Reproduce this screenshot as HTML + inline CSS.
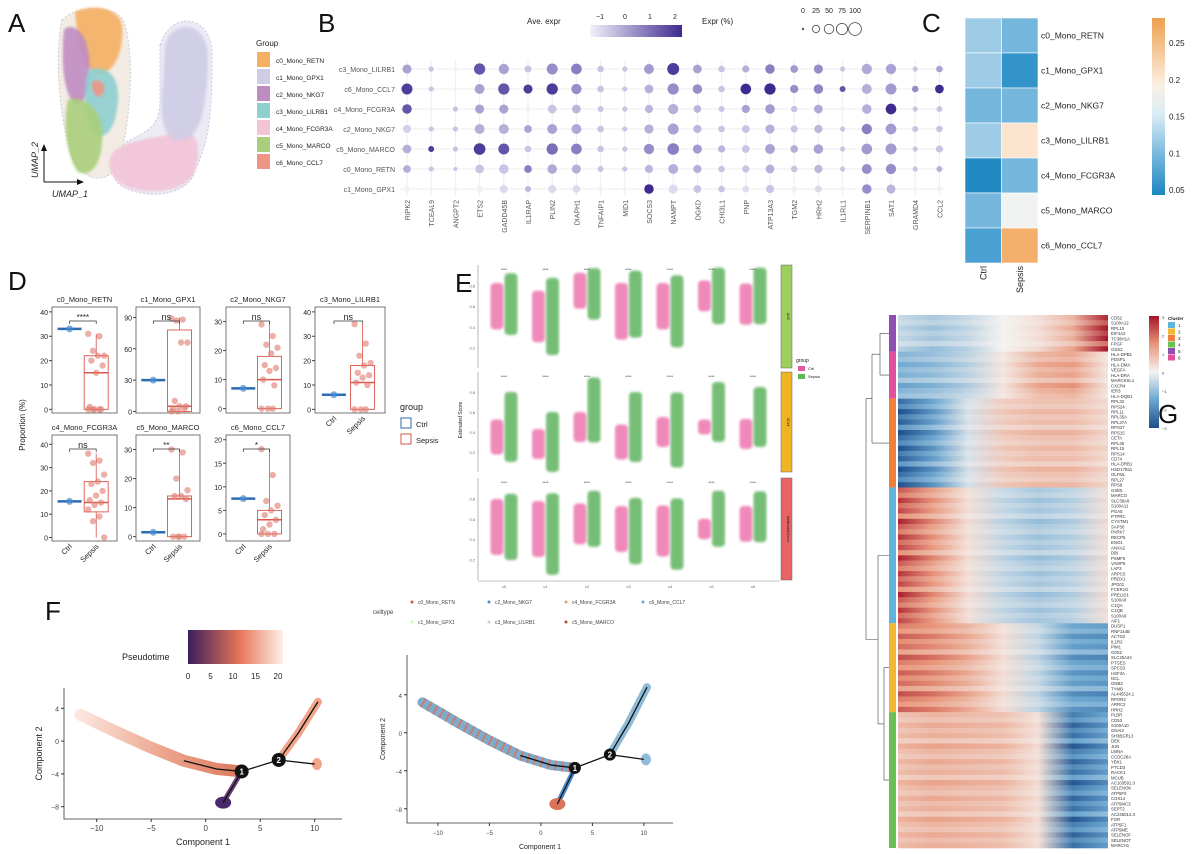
<!DOCTYPE html>
<html><head><meta charset="utf-8">
<style>
html,body{margin:0;padding:0;background:#fff;}
svg{display:block;font-family:"Liberation Sans",sans-serif;}
</style></head>
<body>
<svg id="fig" width="1200" height="854" viewBox="0 0 1200 854" xmlns="http://www.w3.org/2000/svg">
<defs>
<linearGradient id="aveGrad" x1="0" x2="1" y1="0" y2="0"><stop offset="0" stop-color="#f3f1fa"/><stop offset="1" stop-color="#3f2a90"/></linearGradient>
<linearGradient id="cGrad" x1="0" x2="0" y1="1" y2="0"><stop offset="0" stop-color="#1b86c0"/><stop offset="0.22" stop-color="#74b6dc"/><stop offset="0.45" stop-color="#d9ecf5"/><stop offset="0.62" stop-color="#fbf0e4"/><stop offset="1" stop-color="#eea04e"/></linearGradient>
<linearGradient id="gGrad" x1="0" x2="0" y1="1" y2="0"><stop offset="0" stop-color="#1f4e8c"/><stop offset="0.25" stop-color="#6aa6d0"/><stop offset="0.5" stop-color="#f5f2f0"/><stop offset="0.75" stop-color="#e8967a"/><stop offset="1" stop-color="#a5142a"/></linearGradient>
<linearGradient id="ptGrad" x1="0" x2="1" y1="0" y2="0"><stop offset="0" stop-color="#3b1f5c"/><stop offset="0.55" stop-color="#e8775a"/><stop offset="1" stop-color="#fdf0ea"/></linearGradient>
<linearGradient id="branchL" x1="0" x2="1" y1="0" y2="0"><stop offset="0" stop-color="#fbe3da"/><stop offset="0.5" stop-color="#eb9c82"/><stop offset="1" stop-color="#d9694c"/></linearGradient>
<filter id="blur1"><feGaussianBlur stdDeviation="1.2"/></filter>
</defs>
<g id="root"></g>
</svg>
<script>
// ---------- data ----------
var groupNames = ["c0_Mono_RETN","c1_Mono_GPX1","c2_Mono_NKG7","c3_Mono_LILRB1","c4_Mono_FCGR3A","c5_Mono_MARCO","c6_Mono_CCL7"];
var groupColors = ["#f5b064","#cfcde6","#bf8cc2","#8ecfcf","#f2c4d6","#a9cf7c","#ee9585"];
var dotRows = ["c3_Mono_LILRB1","c6_Mono_CCL7","c4_Mono_FCGR3A","c2_Mono_NKG7","c5_Mono_MARCO","c0_Mono_RETN","c1_Mono_GPX1"];
var dotGenes = ["RIPK2","TCEAL9","ANGPT2","ETS2","GADD45B","IL1RAP","PLIN2","DIAPH1","TNFAIP1","MID1","SOCS3","NAMPT","DGKD","CHI3L1","PNP","ATP13A3","TGM2","HRH2","IL1RL1","SERPINB1","SAT1","GRAMD4","CCL2"];
var dotPct = [
[45,10,5,75,60,25,70,65,20,10,55,85,40,20,25,50,30,45,10,60,60,10,20],
[70,10,5,55,75,45,75,60,20,10,40,75,50,20,65,75,35,50,15,55,70,20,40],
[50,5,10,45,45,10,40,40,15,10,35,60,30,15,35,50,20,40,5,50,65,10,15],
[35,10,10,55,55,30,55,55,20,10,45,70,35,20,30,45,25,35,10,60,65,15,20],
[40,15,10,80,70,20,75,65,20,10,60,80,45,25,30,55,30,50,10,65,70,10,25],
[30,10,5,40,50,30,50,45,15,10,35,55,35,20,25,40,20,35,10,55,60,10,15],
[15,5,5,20,35,15,35,30,10,5,50,45,30,20,20,35,15,25,5,50,45,5,10]];
var dotAve = [
[0.5,0,-1,1.5,0.5,0,0.8,1.0,0,0,0.6,1.8,0.5,0,0.3,1.0,0.6,0.8,0,0.4,0.5,0,0.5],
[1.8,0,-1,0.5,1.5,1.8,1.8,0.8,0,0,0.3,0.8,0.8,0,2,2,0.8,0.9,1.5,0.3,0.6,0.8,2],
[1.5,-1,0,0.5,0.5,-1,0,0.2,0,0,0.2,0.3,0.2,0,0.5,0.6,0,0.4,-1,0.3,2,0,0],
[-0.3,0,0,0.3,0.3,0.5,0.5,0.4,0,0,0.3,0.5,0.2,0,0,0.3,0,0.2,0,1,0.6,0,0],
[0.3,1.8,0,1.8,1.5,0,1.2,1.0,0,0,0.8,1.0,0.6,0.2,0,0.5,0.3,0.5,0,0.6,0.6,0,0],
[0.3,0,0,0,0,1,0.4,0.3,0,0,0.2,0.3,0.3,0,0,0.3,0,0.2,0,0.8,0.8,0,0.3],
[-1,-1,-1,-1,-0.5,0.2,-0.5,-0.5,-1,-1,2,-0.5,0,0,-0.5,0,-1,-0.5,-1,0.8,0.2,-1,-1]];
var heatCCols = ["Ctrl","Sepsis"];
var heatCCtrl = [0.12,0.12,0.10,0.12,0.05,0.10,0.08];
var heatCSepsis = [0.10,0.065,0.10,0.20,0.10,0.17,0.26];
var heatCTicks = [0.05,0.1,0.15,0.2,0.25];
var boxTitles = ["c0_Mono_RETN","c1_Mono_GPX1","c2_Mono_NKG7","c3_Mono_LILRB1","c4_Mono_FCGR3A","c5_Mono_MARCO","c6_Mono_CCL7"];
var boxCtrl = [33,30,7,6,15.5,1.5,7.5];
var boxQ1 = [0,0,0,0,11,0,0];
var boxMed = [15,5,10,11,15,13,3];
var boxQ3 = [22,78,18,18,24,14,5];
var boxWhiskLo = [0,0,0,0,0,0,0];
var boxWhiskHi = [31,90,30,35,36,30,18];
var boxPts = [
[31,30,24,22,22,20,18,15,1,0,0,0,0,0],
[89,88,87,66,66,10,5,5,3,2,0,0],
[29,25,22,21,19,15,14,13,10,8,0,0,0],
[35,27,22,19,18,15,14,13,11,10,0,0,0],
[36,33,32,27,24,23,20,18,16,15,14,12,9,7,0],
[30,29,20,16,14,14,13,0,0,0,0],
[18,12.5,7,6,5,4,3,2,1,0,0,0]];
var boxYmax = [42,100,35,42,44,35,21];
var boxTicks = [[0,10,20,30,40],[0,30,60,90],[0,10,20,30],[0,10,20,30,40],[0,10,20,30,40],[0,10,20,30],[0,5,10,15,20]];
var boxSig = ["****","ns","ns","ns","ns","**","*"];
var eCats = ["c0","c1","c2","c3","c4","c5","c6"];
var eCtrlMid = [[0.6,0.5,0.75,0.55,0.6,0.7,0.62],[0.35,0.28,0.45,0.3,0.4,0.45,0.38],[0.52,0.5,0.55,0.5,0.48,0.5,0.55]];
var eSepMid = [[0.62,0.5,0.72,0.62,0.55,0.7,0.7],[0.45,0.3,0.62,0.45,0.42,0.6,0.55],[0.52,0.45,0.6,0.48,0.45,0.6,0.62]];
var eCtrlSpread = [[0.45,0.5,0.35,0.55,0.45,0.3,0.4],[0.35,0.3,0.3,0.35,0.3,0.15,0.3],[0.55,0.55,0.4,0.45,0.5,0.2,0.35]];
var eSepSpread = [[0.6,0.75,0.5,0.65,0.7,0.55,0.55],[0.7,0.6,0.65,0.7,0.75,0.6,0.6],[0.65,0.8,0.55,0.65,0.7,0.55,0.5]];
var eStrip = ["#9ccf5c","#f0b322","#e86464"];
var eFacetNames = ["AUC","UCell","AddModuleScore"];
var ptTicks = [0,5,10,15,20];
var fXTicks = [-10,-5,0,5,10];
var fYTicks = [4,0,-4,-8];
var trajMain = [[-11.5,3.2],[-8,1],[-5,-0.8],[-2,-2.4],[1,-3.4],[3.3,-3.7]];
var trajDown = [[3.3,-3.7],[2.5,-5.5],[1.6,-7.5]];
var trajUp = [[3.3,-3.7],[6.7,-2.3],[8.5,1],[10.3,4.8]];
var trajSide = [[6.7,-2.3],[10,-2.8]];
var nodes = [[3.3,-3.7,"1"],[6.7,-2.3,"2"]];
var gClusterColors = {"1":"#5fb3dc","2":"#f2b632","3":"#f07f3c","4":"#6cbf52","5":"#8e4fb0","6":"#e24f9c"};
var gClusterOrder = ["5","6","3","1","2","4"];
var gGenes5 = ["CD52","S100A12","RPL10","EIF4A2","TC38H1A","FPGF","GSS2"];
var gGenes6 = ["HLA-DPB1","PDSP1","HLA-DMA","VEGFA","HLA-DRA","MARCKSL1","CXCR4","IER3","HLA-DQB1"];
var gGenes3 = ["RPL32","RPS24","RPL11","RPL35A","RPL37A","RPS27","RPS15","CETA","RPL36","RPL15","RPS14","CD74","HLA-DRB1","HSD17B11","OLFML","RPL27","RPS8"];
var gGenes1 = ["GSE5","MARCO","SLC39A8","S100A11","PGA5","PTPRC","CYSTM1","SAP30","PARK7","RECP5","ENO1","ANXA2","DBI","PSMF5","VAMP5","LAP3","ARPC5","PRDX1","JPG01","FCER1G","PRELID1","S100A8","C1QA","C1QB","S100A9","AIF1"];
var gGenes2 = ["DUSP1","RNF144B","ACTG2","IL1R2","PIM1","G0S2","SLC25A24","PTGES","SPCS3","HSF3A","NCL","GNB3","TYMB","AL445524.1","RPOR2","ARRC2","HRH2"];
var gGenes4 = ["PLBR","CD53","S100A10","GNAI2","SH3BGRL3","DEK","JUN","LMNA","CCDC28A","YBX1","PTCD3","RACK1","MCUB","AC103591.3","SELENOK","ATP5F0","COX14","ATP5MC3","SEPT2","AC245014.3","FGR","ATP5F1","ATP5ME","SELENOF","SELENOT","MARCH1"];
var gProf5 = [-0.5,-0.8,-0.5,0,0.3,1,2.8];
var gProf6 = [-1.2,-1,-0.6,0.2,1,1.2,0.2];
var gProf3 = [-2.5,-1.5,-0.3,0.6,0.8,0.8,0.4];
var gProf1 = [2.2,1.3,0.3,-0.5,-0.8,-0.6,0.3];
var gProf2 = [1.8,1.5,1,0.3,-0.5,-1.5,-1.6];
var gProf4 = [0.8,1,0.9,0.8,0.3,-2.2,-1.5];
var gRowAmp = [1,0.8,1.2,0.9,1.1,0.7,1.3];
var gTicks = [3,2,1,0,-1,-2,-3];

// ---------- helpers ----------
var NS="http://www.w3.org/2000/svg";
var root=document.getElementById('root');
function mk(tag,a,p){var e=document.createElementNS(NS,tag);for(var k in a)e.setAttribute(k,a[k]);(p||root).appendChild(e);return e;}
function tx(s,x,y,a,p){var e=mk('text',Object.assign({x:x,y:y,fill:'#222','font-size':8},a||{}),p);e.textContent=s;return e;}
function grp(name,p){var g=mk('g',{},p);return g;}
function lerpC(c1,c2,t){var a=parseInt(c1.slice(1),16),b=parseInt(c2.slice(1),16);var r=Math.round(((a>>16)&255)*(1-t)+((b>>16)&255)*t),g=Math.round(((a>>8)&255)*(1-t)+((b>>8)&255)*t),bl=Math.round((a&255)*(1-t)+(b&255)*t);return 'rgb('+r+','+g+','+bl+')';}
function ramp(stops,v){if(v<=stops[0][0])return stops[0][1];for(var i=1;i<stops.length;i++){if(v<=stops[i][0]){var t=(v-stops[i-1][0])/(stops[i][0]-stops[i-1][0]);return lerpC(stops[i-1][1],stops[i][1],t);}}return stops[stops.length-1][1];}
function label(s,x,y,p){var e=tx(s,x,y,{'font-size':26,fill:'#111'},p);return e;}

// ---------- Panel A ----------
var gA=grp('panel-a-umap');
label('A',8,32,gA);
var outlineR=mk('path',{d:'M160,45 C170,10 215,12 212,60 C212,110 210,140 195,170 C190,195 150,200 125,188 C105,178 110,150 130,140 C150,130 160,125 160,100 Z',fill:'#ecebf5',stroke:'#c9c7e0','stroke-dasharray':'2 2'},gA);


var outlineL=mk('path',{d:'M62,20 C75,5 120,3 125,25 C135,60 130,120 120,160 C110,190 75,180 70,150 C58,110 55,50 62,20 Z',fill:'#f3ece4',stroke:'#ccc','stroke-dasharray':'2 2'},gA);


var umapShapes=[
 {c:4,d:'M115,150 C140,135 165,140 175,130 C190,125 205,140 195,170 C188,192 150,196 125,186 C108,178 105,160 115,150 Z'},
 {c:1,d:'M165,45 C172,18 210,20 208,60 C207,110 200,140 180,140 C160,140 160,110 163,80 Z'},
 {c:0,d:'M75,12 C90,4 118,6 122,25 C124,45 118,70 100,75 C85,72 78,50 75,12 Z'},
 {c:2,d:'M64,30 C70,22 85,30 88,50 C92,75 90,100 78,105 C66,102 60,70 64,30 Z'},
 {c:3,d:'M88,70 C100,65 120,70 118,100 C116,130 105,140 95,135 C85,120 82,90 88,70 Z'},
 {c:5,d:'M68,100 C80,95 100,105 102,130 C104,165 90,178 78,172 C68,160 62,125 68,100 Z'},
 {c:6,d:'M92,82 C98,78 106,82 104,92 C100,100 92,98 92,82 Z'}];
umapShapes.forEach(function(s,i){
 var p=mk('path',{d:s.d,fill:groupColors[s.c],opacity:0.9,filter:'url(#blur1)'},gA);
 
 
});
var ax1=mk('path',{d:'M44,182 L44,148 M44,182 L80,182',stroke:'#111','stroke-width':1,fill:'none'},gA);


var arr=mk('path',{d:'M41,151 L44,144 L47,151 Z M77,179 L84,182 L77,185 Z',fill:'#111'},gA);


var u2=tx('UMAP_2',38,160,{'font-size':9,'font-style':'italic',transform:'rotate(-90 38 160)','text-anchor':'middle'},gA);


var u1=tx('UMAP_1',52,197,{'font-size':9,'font-style':'italic'},gA);


var lgA=grp('umap-legend',gA);
tx('Group',256,46,{'font-size':8},lgA);
groupNames.forEach(function(n,i){
 var r=mk('rect',{x:257,y:52+i*17,width:13,height:15,fill:groupColors[i]},lgA);
 
 
 var t=tx(n,276,63+i*17,{'font-size':6.5},lgA);
 
 
});

// ---------- Panel B ----------
var gB=grp('panel-b-dotplot');
label('B',318,32,gB);
function bx(i){return 407+i*24.2;}
function by(j){return 69+j*20;}
function bRad(p){return 0.8+5.6*Math.sqrt(p/100);}
function bCol(v){return ramp([[-1,'#f1eff8'],[0,'#c9c4e3'],[1,'#8a7fc3'],[2,'#3f2a90']],v);}
dotRows.forEach(function(r,j){
 var l=mk('line',{x1:400,x2:945,y1:by(j),y2:by(j),stroke:'#eee','stroke-width':1},gB);
 
 
 var t=tx(r,395,by(j)+3,{'font-size':7,'text-anchor':'end',fill:'#555'},gB);
 
 
});
dotGenes.forEach(function(g,i){
 var l=mk('line',{x1:bx(i),x2:bx(i),y1:60,y2:196,stroke:'#eee','stroke-width':1},gB);
 
 
 var t=tx(g,bx(i)+3,200,{'font-size':7,'text-anchor':'end',fill:'#555',transform:'rotate(-90 '+(bx(i)+3)+' 200)'},gB);
 
 
});
dotRows.forEach(function(r,j){dotGenes.forEach(function(g,i){
 var c=mk('circle',{cx:bx(i),cy:by(j),r:bRad(dotPct[j][i]),fill:bCol(dotAve[j][i])},gB);
 
 
});});
var lgB=grp('dotplot-legend',gB);
tx('Ave. expr',527,24,{'font-size':8},lgB);
var gr=mk('rect',{x:590,y:25,width:92,height:12,fill:'url(#aveGrad)'},lgB);


[-1,0,1,2].forEach(function(v,i){tx(v===-1?'\u22121':String(v),600+i*25,19,{'font-size':7,'text-anchor':'middle'},lgB);});
tx('Expr (%)',702,24,{'font-size':8},lgB);
[0,25,50,75,100].forEach(function(v,i){
 tx(String(v),803+i*13,13,{'font-size':7,'text-anchor':'middle'},lgB);
 var c=mk('circle',{cx:803+i*13,cy:29,r:bRad(v),fill:'none',stroke:'#444','stroke-width':0.8},lgB);
 
 
});

// ---------- Panel C ----------
var gC=grp('panel-c-heatmap');
label('C',922,32,gC);
function cCol(v){return ramp([[0.045,'#1b86c0'],[0.075,'#3f9bcf'],[0.1,'#74b6dc'],[0.125,'#a8d2ea'],[0.16,'#e4f1f7'],[0.18,'#fdf3ec'],[0.21,'#fbdcc0'],[0.27,'#f2a65c']],v);}
var cy0=18,ch=35,cw=36.5;
groupNames.forEach(function(n,j){
 [heatCCtrl,heatCSepsis].forEach(function(arr,k){
  var r=mk('rect',{x:965+k*cw,y:cy0+j*ch,width:cw,height:ch,fill:cCol(arr[j]),stroke:'#fff','stroke-width':0.6},gC);
  
  
 });
 var t=tx(n,1041,cy0+j*ch+ch/2+3,{'font-size':8.5},gC);
 
 
});
heatCCols.forEach(function(c,k){
 var x=965+k*cw+cw/2+3;
 var t=tx(c,x,266,{'font-size':9,'text-anchor':'end',transform:'rotate(-90 '+x+' 266)'},gC);
 
 
});
var cb=mk('rect',{x:1152,y:18,width:13,height:177,fill:'url(#cGrad)'},gC);


function cbY(v){return 190-(v-0.05)*735;}
heatCTicks.forEach(function(v){var t=tx(String(v),1169,cbY(v)+3,{'font-size':8},gC);});

// ---------- Panel D ----------
var gD=grp('panel-d-boxplots');
label('D',8,290,gD);
var dPos=[[52,307],[136,307],[226,307],[315,307],[52,435],[136,435],[226,435]];
var dW=[65,64,64,70,65,64,64],dH=106;
var yl=tx('Proportion (%)',25,425,{'font-size':8,'text-anchor':'middle',transform:'rotate(-90 25 425)'},gD);


boxTitles.forEach(function(t,i){
 var X=dPos[i][0],Y=dPos[i][1],W=dW[i];
 var p=grp('facet-'+t,gD);
 var ys=function(v){return Y+dH-(v+1.5)/(boxYmax[i]+1.5)*dH;};
 tx(t,X+W/2,Y-5,{'font-size':7.5,'text-anchor':'middle'},p);
 var fr=mk('rect',{x:X,y:Y,width:W,height:dH,fill:'none',stroke:'#555','stroke-width':0.8},p);
 
 
 boxTicks[i].forEach(function(v){
  mk('line',{x1:X-3,x2:X,y1:ys(v),y2:ys(v),stroke:'#444'},p);
  tx(String(v),X-4,ys(v)+3,{'font-size':7,'text-anchor':'end'},p);
 });
 var cx=X+W*0.27,sx=X+W*0.68;
 var cl=mk('line',{x1:cx-12,x2:cx+12,y1:ys(boxCtrl[i]),y2:ys(boxCtrl[i]),stroke:'#2b6cb3','stroke-width':2.5},p);
 
 
 var cpt=mk('circle',{cx:cx,cy:ys(boxCtrl[i]),r:3.5,fill:'#4a8ad0',opacity:0.7},p);
 
 
 var wl=mk('line',{x1:sx,x2:sx,y1:ys(boxWhiskHi[i]),y2:ys(boxWhiskLo[i]),stroke:'#d9544a','stroke-width':0.8},p);
 
 
 var br=mk('rect',{x:sx-12,y:ys(boxQ3[i]),width:24,height:ys(boxQ1[i])-ys(boxQ3[i]),fill:'#fff',stroke:'#d9544a','stroke-width':0.9},p);
 
 
 var md=mk('line',{x1:sx-12,x2:sx+12,y1:ys(boxMed[i]),y2:ys(boxMed[i]),stroke:'#d9544a','stroke-width':1.5},p);
 
 
 boxPts[i].forEach(function(v,k){
  var off=((k*7)%11-5)*1.6;
  var c=mk('circle',{cx:sx+off,cy:ys(v),r:3.2,fill:'#e07a6e',opacity:0.6},p);
  
  
 });
 var sy=Y+14;
 var br2=mk('path',{d:'M'+cx+','+(sy+3)+' L'+cx+','+sy+' L'+sx+','+sy+' L'+sx+','+(sy+3),stroke:'#333',fill:'none','stroke-width':0.7},p);
 
 
 var st=tx(boxSig[i],(cx+sx)/2,sy-1,{'font-size':boxSig[i]==='ns'?9:8,'text-anchor':'middle'},p);
 
 
 if(i>=3){
  ['Ctrl','Sepsis'].forEach(function(s,k){var x=k?sx+3:cx+3;tx(s,x,Y+dH+6,{'font-size':7.5,'text-anchor':'end',transform:'rotate(-45 '+x+' '+(Y+dH+6)+')'},p);});
 }
});
var lgD=grp('group-legend',gD);
tx('group',400,410,{'font-size':9},lgD);
[['Ctrl','#2b6cb3'],['Sepsis','#d9544a']].forEach(function(s,k){
 var r=mk('rect',{x:401,y:418+k*16,width:10,height:10,fill:'#fff',stroke:s[1]},lgD);
 
 
 tx(s[0],416,427+k*16,{'font-size':7.5},lgD);
});

// ---------- Panel E ----------
var gE=grp('panel-e-scores');
label('E',455,292,gE);
var eTop=[265,372,478],eH=[103,100,102];
var eX0=478,eX1=780;
var yt=tx('Estimated Score',462,420,{'font-size':5,'text-anchor':'middle',transform:'rotate(-90 462 420)'},gE);


function ex(i){return 497+i*41.5;}
eFacetNames.forEach(function(f,k){
 var p=grp('facet-'+f,gE);
 var fr=mk('rect',{x:eX0,y:eTop[k],width:eX1-eX0,height:eH[k],fill:'#fff',stroke:'none'},p);
 
 
 mk('line',{x1:eX0,x2:eX0,y1:eTop[k],y2:eTop[k]+eH[k],stroke:'#888','stroke-width':0.6},p);
 var st=mk('rect',{x:eX1+1,y:eTop[k],width:11,height:eH[k],fill:eStrip[k],stroke:'#666','stroke-width':0.5},p);
 
 
 tx(f,eX1+7,eTop[k]+eH[k]/2,{'font-size':3.5,'text-anchor':'middle',transform:'rotate(90 '+(eX1+7)+' '+(eTop[k]+eH[k]/2)+')'},p);
 [0.2,0.4,0.6,0.8].forEach(function(v){tx(v.toFixed(1),eX0-3,eTop[k]+eH[k]*(1-v)+2,{'font-size':4,'text-anchor':'end',fill:'#666'},p);});
 var ey=function(v){return eTop[k]+eH[k]*(1-v);};
 eCats.forEach(function(c,i){
  var xc=ex(i),xs=ex(i)+14;
  var cs=eCtrlSpread[k][i],ss=eSepSpread[k][i];
  var r1=mk('rect',{x:xc-6.5,y:ey(eCtrlMid[k][i]+cs/2),width:13,height:eH[k]*cs,rx:4,fill:'#e8589c',opacity:0.7,filter:'url(#blur1)'},p);
  
  
  var r2=mk('rect',{x:xs-6.5,y:ey(eSepMid[k][i]+ss/2),width:13,height:eH[k]*ss,rx:4,fill:'#4aa84a',opacity:0.75,filter:'url(#blur1)'},p);
  
  
  tx('****',(xc+xs)/2,eTop[k]+6,{'font-size':4,'text-anchor':'middle'},p);
  if(k===2)tx(c,xc+7,eTop[k]+eH[k]+8,{'font-size':4,'text-anchor':'middle',fill:'#666'},p);
 });
});
mk('line',{x1:eX0,x2:eX1,y1:581,y2:581,stroke:'#888','stroke-width':0.6},gE);
var lgE=grp('e-group-legend',gE);
tx('group',796,362,{'font-size':5},lgE);
tx('Ctrl',808,370,{'font-size':4},lgE);tx('Sepsis',808,378,{'font-size':4},lgE);
var le1=mk('rect',{x:798,y:366,width:7,height:5,fill:'#e8589c'},lgE);


var le2=mk('rect',{x:798,y:374,width:7,height:5,fill:'#5cb857'},lgE);


var lgCT=grp('celltype-legend',gE);
tx('celltype',373,614,{'font-size':6,fill:'#444'},lgCT);
var ctCols=["#d9544a","#cfa","#4a8ad0","#ccc","#e89b70","#b04a3a","#6aa8cc"];
groupNames.forEach(function(n,i){
 var row=i%2,col=Math.floor(i/2);
 var x=412+col*77,y=604+row*20;
 var c=mk('circle',{cx:x,cy:y-2,r:1.5,fill:ctCols[i]},lgCT);
 
 
 tx(n,x+6,y,{'font-size':5,fill:'#444'},lgCT);
});

// ---------- Panel F ----------
var gF=grp('panel-f-trajectory');
label('F',45,620,gF);
function trajPanel(name,X0,X1,Y0,Y1,xscale,yscale,colored){
 var p=grp(name,gF);
 var fx=function(v){return X0+(v+13)*xscale;};
 var fy=function(v){return Y1-(v+9.5)*yscale;};
 var ax=mk('path',{d:'M'+X0+','+(Y0)+' L'+X0+','+Y1+' L'+X1+','+Y1,stroke:'#333',fill:'none','stroke-width':0.8},p);
 
 
 fXTicks.forEach(function(v){mk('line',{x1:fx(v),x2:fx(v),y1:Y1,y2:Y1+3,stroke:'#333'},p);tx(v<0?'\u2212'+(-v):String(v),fx(v),Y1+12,{'font-size':colored?6:8,'text-anchor':'middle',fill:'#444'},p);});
 fYTicks.forEach(function(v){mk('line',{x1:X0-3,x2:X0,y1:fy(v),y2:fy(v),stroke:'#333'},p);tx(v<0?'\u2212'+(-v):String(v),X0-5,fy(v)+3,{'font-size':colored?6:7,'text-anchor':'end',fill:'#444'},p);});
 function pts(a){return a.map(function(q){return fx(q[0])+','+fy(q[1]);}).join(' ');}
 var bw=colored?10:12;
 var s1=mk('polyline',{points:pts(trajMain),fill:'none',stroke:colored?'#6fa3c8':'url(#branchL)','stroke-width':bw,'stroke-linecap':'round',opacity:0.9},p);
 
 
 if(colored){var s1b=mk('polyline',{points:pts(trajMain),fill:'none',stroke:'#d9735a','stroke-width':bw,'stroke-dasharray':'2 5',opacity:0.8},p);}
 var s2=mk('polyline',{points:pts(trajDown),fill:'none',stroke:colored?'#4a8ad0':'#6b3f7a','stroke-width':5},p);
 
 
 var bl=mk('ellipse',{cx:fx(trajDown[2][0]),cy:fy(trajDown[2][1]),rx:8,ry:6,fill:colored?'#d9735a':'#4a2a6a'},p);
 
 
 var s3=mk('polyline',{points:pts(trajUp.slice(1)),fill:'none',stroke:colored?'#8fbcd8':'#f2a58a','stroke-width':8,'stroke-linecap':'round'},p);
 
 
 var s4=mk('ellipse',{cx:fx(10.2),cy:fy(-2.8),rx:5,ry:6,fill:colored?'#8fbcd8':'#f2a58a'},p);
 
 
 [trajMain.slice(3),trajDown,trajUp,trajSide].forEach(function(a){var l=mk('polyline',{points:pts(a),fill:'none',stroke:'#111','stroke-width':1.3},p);});
 nodes.forEach(function(n){
  var c=mk('circle',{cx:fx(n[0]),cy:fy(n[1]),r:colored?6:7,fill:'#111'},p);
  
  
  tx(n[2],fx(n[0]),fy(n[1])+3,{'font-size':8,'font-weight':'bold',fill:'#fff','text-anchor':'middle'},p);
 });
 var xl=tx('Component 1',(X0+X1)/2,Y1+26,{'font-size':colored?7:9,'text-anchor':'middle'},p);
 
 
 var ylb=tx('Component 2',X0-22,(Y0+Y1)/2,{'font-size':colored?7:9,'text-anchor':'middle',transform:'rotate(-90 '+(X0-22)+' '+((Y0+Y1)/2)+')'},p);
 
 
}
trajPanel('trajectory-pseudotime',64,342,688,819,10.9,8.2,false);
trajPanel('trajectory-celltype',407,673,655,823,10.3,9.5,true);
var lgF=grp('pseudotime-legend',gF);
var pl=tx('Pseudotime',122,660,{'font-size':9},lgF);


var pg=mk('rect',{x:188,y:630,width:95,height:34,fill:'url(#ptGrad)'},lgF);


ptTicks.forEach(function(v,i){tx(String(v),188+i*22.5,679,{'font-size':8,'text-anchor':'middle'},lgF);});

// ---------- Panel G ----------
var gG=grp('panel-g-heatmap');
label('G',1158,423,gG);
var gGenesAll={"5":gGenes5,"6":gGenes6,"3":gGenes3,"1":gGenes1,"2":gGenes2,"4":gGenes4};
var gProfAll={"5":gProf5,"6":gProf6,"3":gProf3,"1":gProf1,"2":gProf2,"4":gProf4};
var total=0;gClusterOrder.forEach(function(c){total+=gGenesAll[c].length;});
var gy0=315,gy1=848,rh=(gy1-gy0)/total,hx0=898,hx1=1108;
function gCol(v){return ramp([[-3,'#1f4e8c'],[-1.5,'#6aa6d0'],[0,'#f5f2f0'],[1.5,'#e8967a'],[3,'#a5142a']],v);}
var defs=document.querySelector('defs');
var rowIdx=0,clusterSpans=[];
gClusterOrder.forEach(function(c){
 var genes=gGenesAll[c],prof=gProfAll[c],start=rowIdx;
 genes.forEach(function(g,k){
  var amp=gRowAmp[k%gRowAmp.length];
  var lg=mk('linearGradient',{id:'gr'+rowIdx,x1:0,x2:1,y1:0,y2:0},defs);
  prof.forEach(function(v,s){mk('stop',{offset:s/(prof.length-1),'stop-color':gCol(Math.max(-3,Math.min(3,v*amp)))},lg);});
  var y=gy0+rowIdx*rh;
  var r=mk('rect',{x:hx0,y:y,width:hx1-hx0,height:rh+0.3,fill:'url(#gr'+rowIdx+')'},gG);
  
  
  var t=tx(g,hx1+3,y+rh-0.8,{'font-size':4.3,fill:'#333'},gG);
  
  
  rowIdx++;
 });
 var cr=mk('rect',{x:889,y:gy0+start*rh,width:7,height:genes.length*rh,fill:gClusterColors[c]},gG);
 
 
 clusterSpans.push([c,gy0+(start+genes.length/2)*rh]);
});
var sp={};clusterSpans.forEach(function(s){sp[s[0]]=s[1];});
var dd='M889,'+sp['5']+' H880 M889,'+sp['6']+' H880 M880,'+sp['5']+' V'+sp['6']+' M880,'+((sp['5']+sp['6'])/2)+' H872'+
 ' M889,'+sp['3']+' H872 M872,'+((sp['5']+sp['6'])/2)+' V'+sp['3']+' M872,'+(((sp['5']+sp['6'])/2+sp['3'])/2)+' H866'+
 ' M889,'+sp['1']+' H878 M889,'+sp['2']+' H884 M889,'+sp['4']+' H884 M884,'+sp['2']+' V'+sp['4']+' M884,'+((sp['2']+sp['4'])/2)+' H878 M878,'+sp['1']+' V'+((sp['2']+sp['4'])/2)+' M878,'+((sp['1']+(sp['2']+sp['4'])/2)/2)+' H866'+
 ' M866,'+(((sp['5']+sp['6'])/2+sp['3'])/2)+' V'+((sp['1']+(sp['2']+sp['4'])/2)/2);
var dn=mk('path',{d:dd,stroke:'#444',fill:'none','stroke-width':0.6},gG);


var gcb=mk('rect',{x:1149,y:316,width:10,height:112,fill:'url(#gGrad)'},gG);


gTicks.forEach(function(v,i){tx(v<0?'\u2212'+(-v):String(v),1162,319+i*18.5,{'font-size':4,fill:'#333'},gG);});
var lgG=grp('cluster-legend',gG);
tx('Cluster',1168,320,{'font-size':4.5,'font-weight':'bold'},lgG);
["1","2","3","4","5","6"].forEach(function(c,i){
 var r=mk('rect',{x:1168,y:322+i*6.5,width:7,height:6,fill:gClusterColors[c]},lgG);
 
 
 tx(c,1178,327+i*6.5,{'font-size':4.5},lgG);
});
</script>
</body></html>
